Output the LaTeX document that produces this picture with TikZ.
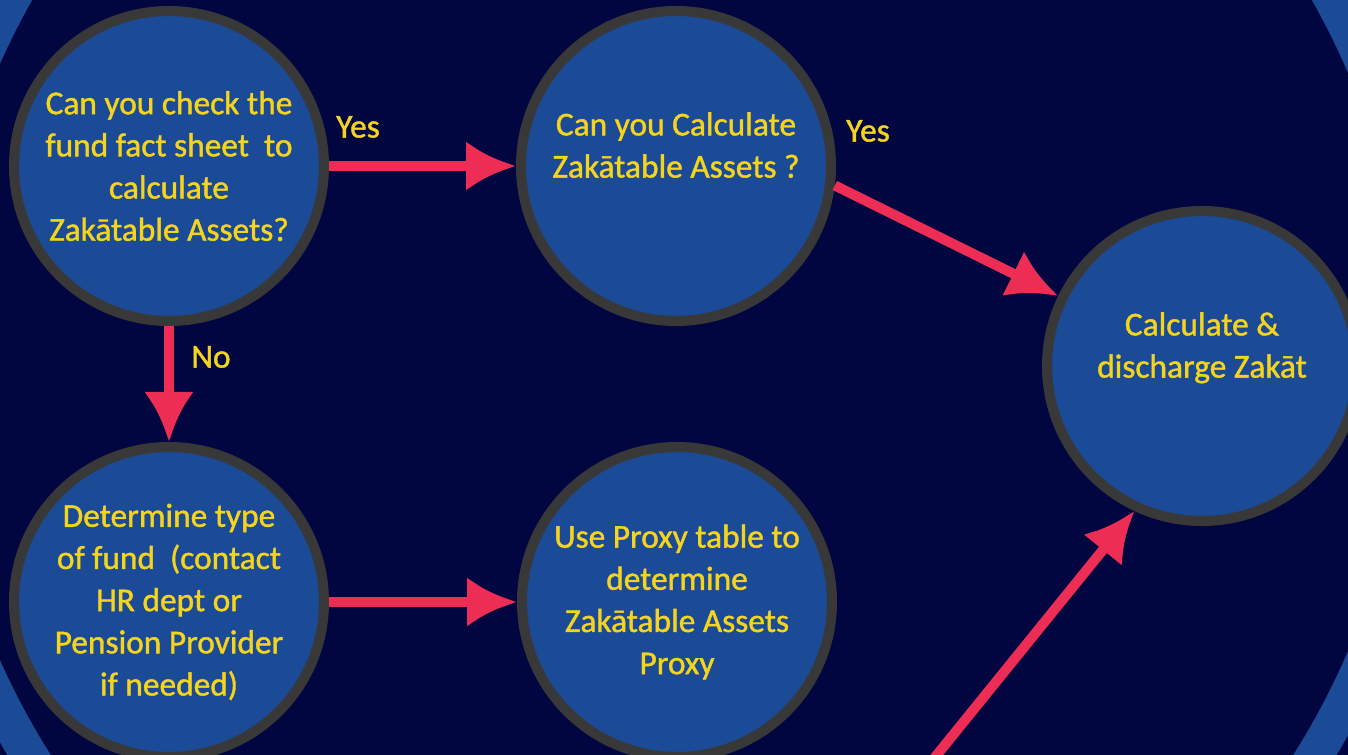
\documentclass[tikz,border=0pt]{standalone}
\usepackage{fontspec}
\setmainfont{Carlito}[FakeBold=1.2]
\definecolor{bgnavy}{RGB}{1, 6, 64}
\definecolor{discblue}{RGB}{27, 74, 150}
\definecolor{rimgray}{RGB}{56, 56, 56}
\definecolor{textgold}{RGB}{245, 212, 30}
\definecolor{arrowred}{RGB}{238, 45, 85}
\usetikzlibrary{arrows.meta}

\begin{document}
\begin{tikzpicture}[
  disc/.style={circle, draw=rimgray, fill=discblue, line width=0.2cm, minimum size=6.2cm, inner sep=0pt,
    text=textgold, align=center, font=\fontsize{19}{24}\selectfont},
  flow/.style={draw=arrowred, line width=0.2cm, -{Latex[length=1cm, width=1cm]}},
  answer/.style={text=textgold, font=\fontsize{19}{24}\selectfont}]
\useasboundingbox (0,0) rectangle (26.96,15.10);
\clip (0,0) rectangle (26.96,15.10);
\fill[bgnavy] (0,0) rectangle (26.96,15.10);
\fill[discblue, even odd rule] (13.44,7.86) circle[radius=15.44cm] (13.44,7.86) circle[radius=14.7cm];

\node[disc] (check) at (3.38,11.78) {Can you check the\\ fund fact sheet\ \ to\\ calculate\\ Zakātable Assets?};
\node[disc] (calc) at (13.52,11.78) {Can you Calculate\\ Zakātable Assets ?\\ \mbox{}};
\node[disc] (zakat) at (24.04,7.78) {Calculate \&\\ discharge Zakāt\\ \mbox{}};
\node[disc] (fundtype) at (3.38,3.06) {Determine type\\ of fund\ \ (contact\\ HR dept or\\ Pension Provider\\ if needed)};
\node[disc] (proxy) at (13.54,3.06) {Use Proxy table to\\ determine\\ Zakātable Assets\\ Proxy};
\coordinate (below) at (16.76,-2.44);

\draw[flow] (check.east) -- (calc.west);
\draw[flow] (calc.-7) -- (zakat.154);
\draw[flow] (check.south) -- (fundtype.north);
\draw[flow] (fundtype.east) -- (proxy.west);
\draw[flow] (below) -- (zakat.245);

\node[answer] (yes1) at (7.16,12.56) {Yes};
\node[answer] (yes2) at (17.36,12.48) {Yes};
\node[answer] (no) at (4.22,7.96) {No};
\end{tikzpicture}
\end{document}
